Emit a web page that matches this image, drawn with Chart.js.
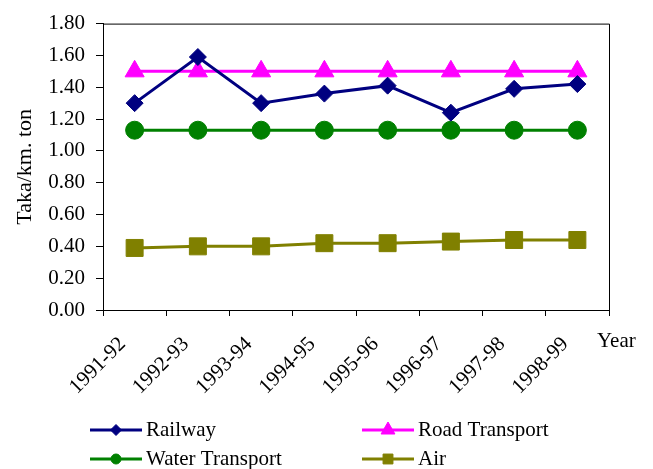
<!DOCTYPE html>
<html>
<head>
<meta charset="utf-8">
<script src="https://cdn.jsdelivr.net/npm/chart.js@4.4.1/dist/chart.umd.min.js"></script>
<style>
  html, body { margin: 0; padding: 0; background: #fff; }
  #wrap { width: 653px; height: 469px; }
</style>
</head>
<body>
<div id="wrap"><canvas id="costChart" width="653" height="469"></canvas></div>
<script>
// values
const years = ['1991-92', '1992-93', '1993-94', '1994-95', '1995-96', '1996-97', '1997-98', '1998-99'];
const railway = [1.30, 1.59, 1.30, 1.36, 1.41, 1.24, 1.39, 1.42];
const roadTransport = [1.50, 1.50, 1.50, 1.50, 1.50, 1.50, 1.50, 1.50];
const waterTransport = [1.13, 1.13, 1.13, 1.13, 1.13, 1.13, 1.13, 1.13];
const air = [0.39, 0.40, 0.40, 0.42, 0.42, 0.43, 0.44, 0.44];
const yMin = 0, yMax = 1.8, yStep = 0.2;

const FONT = '"Liberation Serif", "Times New Roman", serif';

function series(label, data, color, style, radius, legendRadius) {
    return {
        label: label,
        data: data,
        borderColor: color,
        backgroundColor: color,
        borderWidth: 3,
        pointStyle: style,
        pointRadius: radius,
        pointHoverRadius: radius,
        pointBorderWidth: 1,
        legendRadius: legendRadius,
        tension: 0,
        fill: false
    };
}

// frame, rotated year labels, "Year" and the two-column legend
const extras = {
    id: 'extras',
    afterDraw(chart) {
        const ctx = chart.ctx;
        const area = chart.chartArea;
        const xScale = chart.scales.x;
        ctx.save();
        ctx.strokeStyle = '#000';
        ctx.lineWidth = 1;
        ctx.beginPath();
        ctx.moveTo(area.left, area.top + 0.5);
        ctx.lineTo(area.right + 0.5, area.top + 0.5);
        ctx.lineTo(area.right + 0.5, area.bottom);
        ctx.stroke();

        ctx.fillStyle = '#000';
        ctx.font = '21px ' + FONT;
        ctx.textAlign = 'right';
        ctx.textBaseline = 'middle';
        years.forEach(function(label, i) {
            const x = xScale.getPixelForValue(i);
            ctx.save();
            ctx.translate(x - 12, 341);
            ctx.rotate(-Math.PI / 4);
            ctx.fillText(label, 0, 0);
            ctx.restore();
        });

        ctx.textAlign = 'left';
        ctx.fillText('Year', 597, 341);

        const slots = [[90, 430], [362, 430], [90, 459], [362, 459]];
        chart.data.datasets.forEach(function(ds, i) {
            const x0 = slots[i][0], y = slots[i][1];
            ctx.strokeStyle = ds.borderColor;
            ctx.fillStyle = ds.backgroundColor;
            ctx.lineWidth = 3;
            ctx.beginPath();
            ctx.moveTo(x0, y);
            ctx.lineTo(x0 + 52, y);
            ctx.stroke();
            ctx.lineWidth = 1;
            Chart.helpers.drawPoint(ctx, {
                pointStyle: ds.pointStyle,
                radius: ds.legendRadius,
                rotation: 0,
                borderWidth: 1
            }, x0 + 26, y);
            ctx.fillStyle = '#000';
            ctx.fillText(ds.label, x0 + 56, y);
        });
        ctx.restore();
    }
};

new Chart(document.getElementById('costChart').getContext('2d'), {
    type: 'line',
    data: {
        labels: years,
        datasets: [
            series('Railway', railway, '#000080', 'rectRot', 8.5, 5.5),
            series('Road Transport', roadTransport, '#FF00FF', 'triangle', 11, 8),
            series('Water Transport', waterTransport, '#008000', 'circle', 9, 5),
            series('Air', air, '#808000', 'rect', 12, 7)
        ]
    },
    options: {
        responsive: false,
        animation: false,
        layout: {
            padding: { top: 22, right: 44, left: 0, bottom: 0 }
        },
        plugins: {
            legend: { display: false },
            tooltip: { enabled: false }
        },
        scales: {
            x: {
                offset: true,
                grid: {
                    offset: true,
                    drawOnChartArea: false,
                    color: '#000',
                    tickLength: 6
                },
                border: { color: '#000', width: 1 },
                ticks: { display: false },
                afterFit: function(scale) { scale.height = 159; }
            },
            y: {
                min: yMin,
                max: yMax,
                ticks: {
                    stepSize: yStep,
                    color: '#000',
                    padding: 11,
                    font: { family: FONT, size: 21 },
                    callback: function(value) {
                        return value.toFixed(2);
                    }
                },
                grid: {
                    drawOnChartArea: false,
                    color: '#000',
                    tickLength: 7
                },
                border: { color: '#000', width: 1 },
                title: {
                    display: true,
                    text: 'Taka/km. ton',
                    color: '#000',
                    font: { family: FONT, size: 22 },
                    padding: { top: 12, bottom: 0 }
                },
                afterFit: function(scale) { scale.width = 103; }
            }
        }
    },
    plugins: [extras]
});
</script>
</body>
</html>
